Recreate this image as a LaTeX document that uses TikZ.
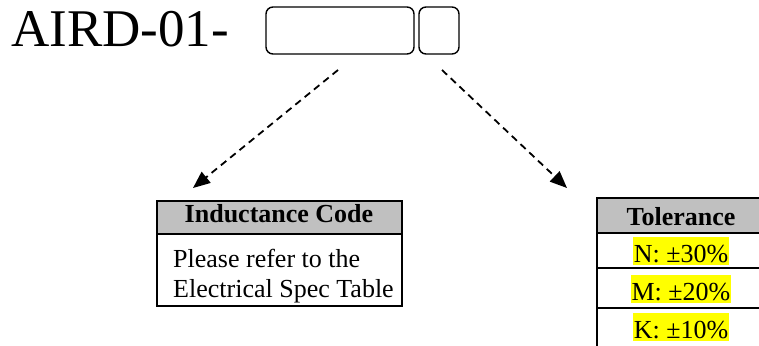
\documentclass[tikz,border=0pt]{standalone}
\usepackage{fontspec}
\setmainfont{Liberation Serif}
\usetikzlibrary{arrows.meta}
\definecolor{headgray}{RGB}{192,192,192}
\definecolor{marker}{RGB}{255,255,0}
\begin{document}
\begin{tikzpicture}[x=1pt,y=-1pt,
  codebox/.style={draw,line width=1.4pt,rounded corners=7pt,minimum height=47pt,inner sep=0pt},
  cell/.style={draw,line width=2pt,inner sep=0pt,anchor=north west},
  headcell/.style={cell,fill=headgray},
  headtext/.style={font=\fontsize{26}{30}\selectfont\bfseries,inner sep=0pt,anchor=base},
  valtext/.style={font=\fontsize{26}{30}\selectfont,fill=marker,inner xsep=0.5pt,inner ysep=0pt,text height=25pt,text depth=3pt,anchor=base},
  pointer/.style={-{Triangle[length=17pt,width=14pt]},line width=1.8pt,dash pattern=on 7pt off 5pt}]
  \clip (0,0) rectangle (759,345);
  % part number
  \node[font=\fontsize{53}{60}\selectfont,inner sep=0pt,anchor=base west] (title) at (11,46) {AIRD-01-};
  \node[codebox,minimum width=148pt] (ind) at (340,30.5) {};
  \node[codebox,minimum width=40pt] (tol) at (439,30.5) {};
  % inductance table
  \node[headcell,minimum width=245pt,minimum height=33pt] (indhead) at (156,200) {};
  \node[cell,minimum width=245pt,minimum height=72pt] (indbody) at (156,233) {};
  \node[headtext] (indtitle) at (279,222) {Inductance Code};
  \node[font=\fontsize{26}{30}\selectfont,inner sep=0pt,anchor=north west,align=left] (indnote) at (173,249) {Please refer to the\\Electrical Spec Table};
  % tolerance table
  \node[headcell,minimum width=175pt,minimum height=35pt] (tolhead) at (596,197) {};
  \node[cell,minimum width=175pt,minimum height=35pt] (tolN) at (596,232) {};
  \node[cell,minimum width=175pt,minimum height=40pt] (tolM) at (596,267) {};
  \node[cell,minimum width=175pt,minimum height=40pt] (tolK) at (596,307) {};
  \node[headtext] (toltitle) at (681,225) {Tolerance};
  \node[valtext] (valN) at (681,262) {N: ±30\%};
  \node[valtext] (valM) at (681,300) {M: ±20\%};
  \node[valtext] (valK) at (681,338) {K: ±10\%};
  % pointers
  \coordinate (indfrom) at (338,70);
  \coordinate (indto) at (193,188);
  \coordinate (tolfrom) at (442,70);
  \coordinate (tolto) at (567,188);
  \draw[pointer] (indfrom) -- (indto);
  \draw[pointer] (tolfrom) -- (tolto);
\end{tikzpicture}
\end{document}
